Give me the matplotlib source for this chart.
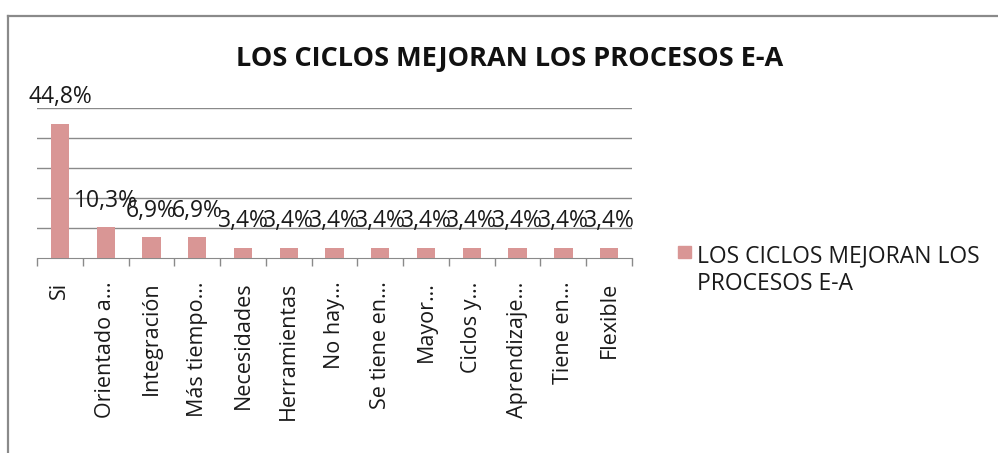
import numpy as np
import matplotlib.pyplot as plt
from matplotlib.lines import Line2D
from matplotlib.patches import Rectangle

# datos del grafico
categorias = ["Si", "Orientado a…", "Integración", "Más tiempo…", "Necesidades",
              "Herramientas", "No hay…", "Se tiene en…", "Mayor…", "Ciclos y…",
              "Aprendizaje…", "Tiene en…", "Flexible"]
valores = [44.8, 10.3, 6.9, 6.9, 3.4, 3.4, 3.4, 3.4, 3.4, 3.4, 3.4, 3.4, 3.4]
etiquetas = ["44,8%", "10,3%", "6,9%", "6,9%", "3,4%", "3,4%", "3,4%",
             "3,4%", "3,4%", "3,4%", "3,4%", "3,4%", "3,4%"]
serie = "LOS CICLOS MEJORAN LOS PROCESOS E-A"

plt.rcParams['font.family'] = ['Open Sans', 'DejaVu Sans']
color_barra = "#D99695"
gris = "#8a8a8a"

fig = plt.figure(figsize=(9.98, 4.53), dpi=100)
W, H = 998, 453
ax = fig.add_axes([37 / W, 1 - 258 / H, 595 / W, 150 / H])

x = np.arange(len(categorias))
ax.bar(x, valores, width=0.4, color=color_barra, zorder=3)
ax.set_xlim(-0.5, len(categorias) - 0.5)
ax.set_ylim(0, 50)
ax.set_yticks([10, 20, 30, 40, 50])
ax.yaxis.grid(True, color=gris, lw=1.0)
ax.tick_params(axis='y', length=0, labelleft=False)
for s in ['left', 'right', 'top']:
    ax.spines[s].set_visible(False)
ax.spines['bottom'].set_color(gris)
ax.set_axisbelow(True)

# etiquetas de datos
for xi, v, t in zip(x, valores, etiquetas):
    ax.annotate(t, (xi, v), xytext=(0, 19), textcoords='offset points',
                ha='center', va='center', fontsize=16.5, color='#1a1a1a')

# eje x
ax.set_xticks(x)
ax.set_xticklabels(categorias, rotation=90, fontsize=15.5, color='#1a1a1a')
ax.tick_params(axis='x', which='major', length=0, pad=17)
ax.set_xticks(np.arange(-0.5, len(categorias)), minor=True)
ax.tick_params(axis='x', which='minor', length=6, color=gris, width=1)

fig.text(510 / W, 1 - 59 / H, serie, ha='center', va='center',
         fontsize=19.5, fontweight='bold', color='#111111')

# leyenda
fig.patches.append(Rectangle((678 / W, 1 - 258 / H), 13 / W, 12 / H,
                             color=color_barra, transform=fig.transFigure))
fig.text(697 / W, 1 - 244 / H, "LOS CICLOS MEJORAN LOS\nPROCESOS E-A",
         ha='left', va='top', fontsize=16.5, linespacing=1.25, color='#1a1a1a')

# marco
fig.add_artist(Line2D([8 / W, 8 / W], [0, 1 - 16 / H], color=gris, lw=1.6))
fig.add_artist(Line2D([8 / W, 1], [1 - 16 / H, 1 - 16 / H], color=gris, lw=1.6))

fig.savefig("out.png", dpi=100)
